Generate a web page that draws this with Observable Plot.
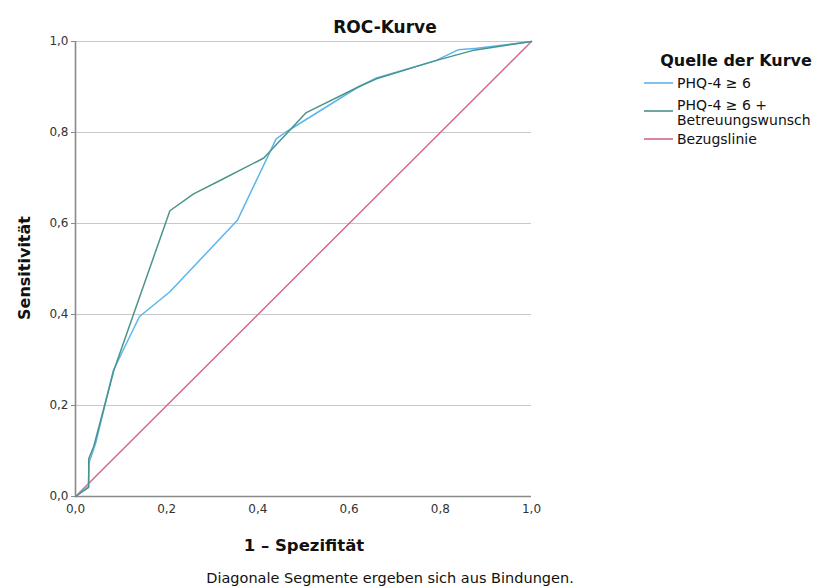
<!DOCTYPE html>
<html><head><meta charset="utf-8">
<script src="https://cdn.jsdelivr.net/npm/d3@7"></script>
<script src="https://cdn.jsdelivr.net/npm/@observablehq/plot@0.6"></script>
<style>body{margin:0;background:#fff;font-family:"DejaVu Sans",sans-serif;}</style>
</head><body><div id="chart"></div>
<script>
const seriesNames = ["PHQ-4 ≥ 6", "PHQ-4 ≥ 6 + Betreuungswunsch", "Bezugslinie"];
const colors = ["#5cb6ec", "#4a948a", "#d0668e"];
const phqFpr = [0, 0.028, 0.03, 0.045, 0.083, 0.14, 0.207, 0.355, 0.44, 0.46, 0.54, 0.62, 0.66, 0.79, 0.84, 0.88, 1];
const phqTpr = [0, 0.022, 0.075, 0.12, 0.277, 0.395, 0.45, 0.607, 0.786, 0.80, 0.85, 0.90, 0.92, 0.958, 0.982, 0.985, 1];
const comboFpr = [0, 0.029, 0.029, 0.04, 0.084, 0.207, 0.259, 0.318, 0.413, 0.505, 0.62, 0.66, 0.79, 0.87, 1];
const comboTpr = [0, 0.02, 0.083, 0.11, 0.277, 0.628, 0.665, 0.695, 0.744, 0.843, 0.90, 0.918, 0.958, 0.98, 1];
const refFpr = [0, 1];
const refTpr = [0, 1];
const ticks = [0, 0.2, 0.4, 0.6, 0.8, 1.0];
const tickLabels = ["0,0", "0,2", "0,4", "0,6", "0,8", "1,0"];

const toRows = (xs, ys, s) => xs.map((x, i) => ({x, y: ys[i], s}));
const phq = toRows(phqFpr, phqTpr, seriesNames[0]);
const combo = toRows(comboFpr, comboTpr, seriesNames[1]);
const ref = toRows(refFpr, refTpr, seriesNames[2]);
const fmt = d => tickLabels[ticks.findIndex(t => Math.abs(t - d) < 1e-9)];

const W = 824, H = 588;
const plot = Plot.plot({
  width: W, height: H,
  marginLeft: 75, marginRight: 293, marginTop: 41, marginBottom: 92,
  style: {fontFamily: "DejaVu Sans, sans-serif", fontSize: "12px", color: "#222", background: "#fff"},
  x: {domain: [0, 1], ticks: ticks, tickFormat: fmt, label: null},
  y: {domain: [0, 1], ticks: ticks, tickFormat: fmt, label: null},
  marks: [
    Plot.gridY(ticks.slice(1), {stroke: "#c8c8c8", strokeOpacity: 1, strokeWidth: 1.2}),
    Plot.axisX({ticks: ticks, tickFormat: fmt, tickSize: 0, tickPadding: 8, fill: "#333", fontSize: 12}),
    Plot.axisY({ticks: ticks, tickFormat: fmt, tickSize: 4, tickPadding: 3, stroke: "#888", fill: "#333", fontSize: 12}),
    Plot.ruleY([0], {stroke: "#8a8a8a", strokeWidth: 1.6}),
    Plot.ruleX([0], {stroke: "#8a8a8a", strokeWidth: 1.6}),
    Plot.line(ref, {x: "x", y: "y", stroke: colors[2], strokeWidth: 1.4}),
    Plot.line(phq, {x: "x", y: "y", stroke: colors[0], strokeWidth: 1.5}),
    Plot.line(combo, {x: "x", y: "y", stroke: colors[1], strokeWidth: 1.5})
  ]
});
document.getElementById("chart").appendChild(plot);

const svg = d3.select(plot);
const txt = (x, y, s, opts = {}) => {
  const t = svg.append("text").attr("x", x).attr("y", y).text(s)
    .attr("font-family", "DejaVu Sans, sans-serif")
    .attr("font-size", opts.size || 11)
    .attr("font-weight", opts.bold ? "bold" : "normal")
    .attr("fill", opts.fill || "#111")
    .attr("text-anchor", opts.anchor || "start");
  if (opts.rotate) t.attr("transform", `rotate(-90 ${x} ${y})`);
  return t;
};
txt(385, 33, "ROC-Kurve", {size: 17, bold: true, anchor: "middle"});
txt(30, 268, "Sensitivität", {size: 16, bold: true, anchor: "middle", rotate: true});
txt(304, 551, "1 – Spezifität", {size: 16.5, bold: true, anchor: "middle"});
txt(390, 583, "Diagonale Segmente ergeben sich aus Bindungen.", {size: 14.5, anchor: "middle"});

// legend
txt(736, 66, "Quelle der Kurve", {size: 16, bold: true, anchor: "middle"});
const leg = [
  {y: 83, lines: ["PHQ-4 ≥ 6"], ty: [88]},
  {y: 111, lines: ["PHQ-4 ≥ 6 +"  , "Betreuungswunsch"], ty: [110, 125]},
  {y: 139, lines: ["Bezugslinie"], ty: [144]}
];
leg.forEach((d, i) => {
  svg.append("line").attr("x1", 644).attr("x2", 673).attr("y1", d.y).attr("y2", d.y)
    .attr("stroke", colors[i]).attr("stroke-width", 1.6);
  d.lines.forEach((l, j) => txt(677, d.ty[j], l, {size: 14}));
});
</script></body></html>
